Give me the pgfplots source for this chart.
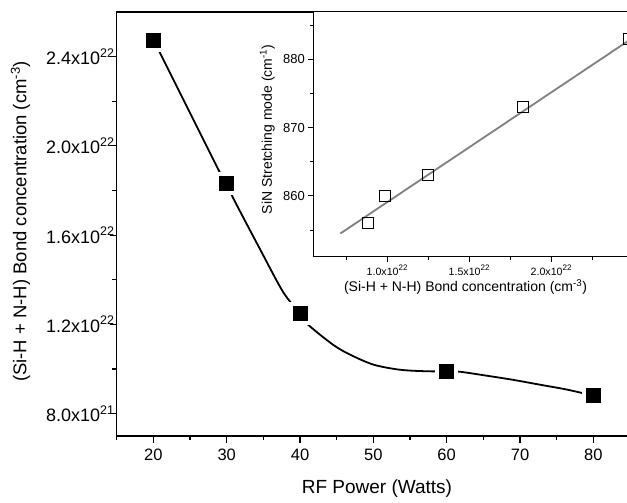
\documentclass[border=0pt]{standalone}
\usepackage{pgfplots}
\pgfplotsset{compat=1.18}
\usepackage{fontspec}
\setmainfont{Liberation Sans}
\newcommand{\supA}[1]{\rlap{\raisebox{0.42em}{\fontsize{12.5}{12.5}\selectfont #1}}}
\newcommand{\supB}[1]{\raisebox{0.45em}{\fontsize{8}{8}\selectfont #1}}
\begin{document}
\begin{tikzpicture}
\useasboundingbox (-116.7pt,-67pt) rectangle (510.3pt,436pt);
\begin{axis}[
  at={(0pt,0pt)}, anchor=south west,
  scale only axis, width=513.3pt, height=424pt,
  xmin=15, xmax=85, ymin=0.7, ymax=2.6,
  xtick={20,30,40,50,60,70,80}, minor xtick={15,25,35,45,55,65,75,85},
  ytick={0.8,1.2,1.6,2.0,2.4}, minor ytick={1.0,1.4,1.8,2.2},
  yticklabels={8.0x10\supA{21},1.2x10\supA{22},1.6x10\supA{22},2.0x10\supA{22},2.4x10\supA{22}},
  xticklabels={20,30,40,50,60,70,80},
  tick align=outside, xtick pos=bottom, ytick pos=left,
  major tick length=7pt, minor tick length=4.5pt,
  tick style={black, line width=1.2pt},
  axis line style={line width=1.3pt},
  x tick label style={font=\fontsize{16.5}{16.5}\selectfont, yshift=-2pt},
  y tick label style={font=\fontsize{18}{18}\selectfont, xshift=-6pt},
  xlabel={RF Power (Watts)},
  ylabel={(Si-H + N-H) Bond concentration (cm\textsuperscript{-3})},
  every axis x label/.style={at={(axis description cs:0.507,-0.125)}, anchor=center, font=\fontsize{19}{19}\selectfont},
  every axis y label/.style={at={(axis description cs:-0.1874,0.506)}, anchor=center, rotate=90, font=\fontsize{18.5}{18.5}\selectfont},
]
% spline curve
\addplot[black, line width=1.8pt, smooth, tension=0.5, no marks]
  coordinates {(20,2.472) (20.9,2.417) (29.1,1.879) (30,1.831) (30.9,1.765)
  (34.5,1.540) (37.7,1.345) (40,1.249) (41.1,1.199) (44.5,1.109) (46.8,1.065)
  (50,1.020) (53.6,0.997) (57.3,0.990) (60,0.990) (61.8,0.988) (65.5,0.970)
  (69,0.952) (72.7,0.930) (76.4,0.908) (80,0.881)};
% measured points
\addplot[only marks, mark=square*, mark size=9.5pt,
  mark options={fill=black, draw=white, line width=4pt}]
  coordinates {(20,2.472) (30,1.831) (40,1.249) (60,0.990) (80,0.881)};
\end{axis}
\begin{axis}[
  at={(196.6pt,179.3pt)}, anchor=south west,
  scale only axis, width=319.8pt, height=245pt,
  xmin=0.55, xmax=2.5, ymin=851.1, ymax=887,
  axis background/.style={fill=white},
  xtick={1.0,1.5,2.0}, minor xtick={0.75,1.25,1.75,2.25},
  xticklabels={1.0x10\supB{22},1.5x10\supB{22},2.0x10\supB{22}},
  ytick={860,870,880}, minor ytick={855,865,875,885},
  yticklabels={860,870,880},
  tick align=outside, xtick pos=bottom, ytick pos=left,
  major tick length=5pt, minor tick length=3.5pt,
  tick style={black, line width=1pt},
  axis line style={line width=1.2pt},
  x tick label style={font=\fontsize{10.6}{10.6}\selectfont},
  y tick label style={font=\fontsize{13}{13}\selectfont},
  xlabel={(Si-H + N-H) Bond concentration (cm\textsuperscript{-3})},
  ylabel={SiN Stretching mode (cm\textsuperscript{-1})},
  every axis x label/.style={at={(axis description cs:0.476,-0.123)}, anchor=center, font=\fontsize{14}{14}\selectfont},
  every axis y label/.style={at={(axis description cs:-0.144,0.52)}, anchor=center, rotate=90, font=\fontsize{14}{14}\selectfont},
]
\addplot[only marks, mark=square, mark size=5.5pt, mark options={draw=black, line width=1pt}]
  coordinates {(0.881,856) (0.99,860) (1.249,863) (1.831,873) (2.472,883)};
\addplot[color={rgb,255:red,128;green,128;blue,128}, line width=1.8pt]
  coordinates {(0.715,854.5) (2.5,883.2)};
\end{axis}
\end{tikzpicture}
\end{document}
